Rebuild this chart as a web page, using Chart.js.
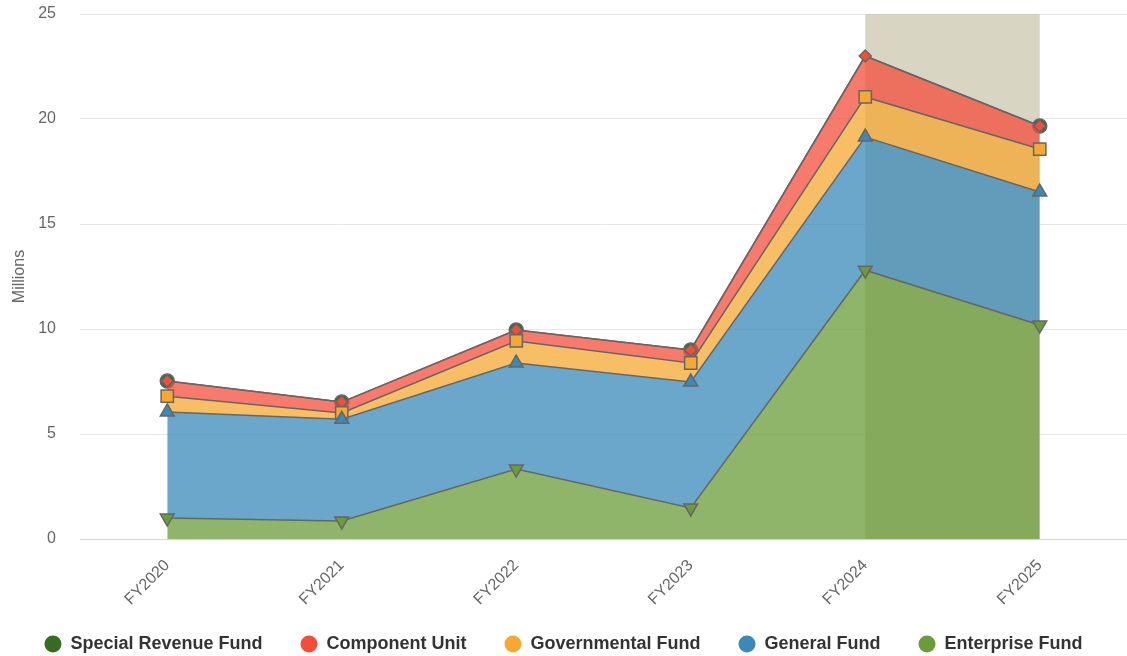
<!DOCTYPE html>
<html>
<head>
<meta charset="utf-8">
<script src="https://cdn.jsdelivr.net/npm/chart.js@4/dist/chart.umd.min.js"></script>
<style>
  html, body { margin: 0; padding: 0; background: #fff; }
  #wrap { width: 1127px; height: 656px; position: relative; }
</style>
</head>
<body>
<div id="wrap"><canvas id="fondos"></canvas></div>
<script>
// datos (millones)
const anios = ['FY2020', 'FY2021', 'FY2022', 'FY2023', 'FY2024', 'FY2025'];
const enterpriseFund = [1.0, 0.86, 3.33, 1.48, 12.8, 10.19];
const generalFund = [5.05, 4.84, 5.05, 6.0, 6.34, 6.33];
const governmentalFund = [0.75, 0.3, 1.05, 0.9, 1.91, 2.05];
const componentUnit = [0.72, 0.52, 0.52, 0.62, 1.95, 1.1];
const specialRevenueFund = [0, 0, 0, 0, 0, 0];
const ticksY = [0, 5, 10, 15, 20, 25];
const aniosSombreados = ['FY2024', 'FY2025'];

const gris = '#666666';
const fuente = 'Liberation Sans, Arial, sans-serif';

function serie(label, data, color, relleno, estilo, rot, radio, fill) {
    return {
        label: label,
        data: data,
        borderColor: gris,
        borderWidth: 1.5,
        backgroundColor: relleno,
        fill: fill,
        tension: 0,
        pointStyle: estilo,
        rotation: rot,
        pointRadius: radio,
        pointBorderWidth: 1.5,
        pointBorderColor: gris,
        pointBackgroundColor: color,
        pointHoverRadius: radio,
        legendColor: color
    };
}

// banda gris detrás de los últimos años
const bandaPlugin = {
    id: 'banda',
    afterInit(chart) {
        // alto fijo de la leyenda para que no dependa del padding
        const lg = chart.legend;
        if (lg) {
            const fitOrig = lg.fit;
            lg.fit = function () { fitOrig.call(this); this.height = 59; };
        }
    },
    beforeDatasetsDraw(chart) {
        const { ctx, chartArea, scales } = chart;
        const x1 = scales.x.getPixelForValue(anios.indexOf(aniosSombreados[0]));
        const x2 = scales.x.getPixelForValue(anios.indexOf(aniosSombreados[1]));
        ctx.save();
        ctx.fillStyle = 'rgba(200,195,170,0.7)';
        ctx.fillRect(x1, chartArea.top, x2 - x1, chartArea.bottom - chartArea.top);
        ctx.restore();
    }
};

document.addEventListener('DOMContentLoaded', () => {
    const ctx = document.getElementById('fondos').getContext('2d');
    const especial = serie('Special Revenue Fund', specialRevenueFund, '#376b22', 'rgba(55,107,34,0.75)', 'circle', 0, 7, '-1');
    especial.pointRadius = anios.map(a => a === 'FY2024' ? 0 : 7);

    new Chart(ctx, {
        type: 'line',
        data: {
            labels: anios,
            datasets: [
                serie('Enterprise Fund', enterpriseFund, '#6a9c3a', 'rgba(106,156,58,0.75)', 'triangle', 180, 8, 'origin'),
                serie('General Fund', generalFund, '#3a89b8', 'rgba(58,137,184,0.75)', 'triangle', 0, 8, '-1'),
                serie('Governmental Fund', governmentalFund, '#f5a833', 'rgba(245,168,51,0.75)', 'rect', 0, 8.7, '-1'),
                serie('Component Unit', componentUnit, '#f44e3b', 'rgba(244,78,59,0.75)', 'rectRot', 0, 6, '-1'),
                especial
            ]
        },
        options: {
            responsive: true,
            maintainAspectRatio: false,
            animation: false,
            layout: { autoPadding: false, padding: { top: 14, right: 0, left: 0, bottom: 0 } },
            plugins: {
                tooltip: { enabled: false },
                legend: {
                    position: 'bottom',
                    reverse: true,
                    labels: {
                        usePointStyle: true,
                        pointStyleWidth: 17,
                        boxWidth: 12,
                        boxHeight: 12,
                        padding: 38,
                        color: '#333333',
                        font: { family: fuente, size: 18, weight: 'bold' },
                        generateLabels(chart) {
                            return chart.data.datasets.map((d, i) => ({
                                text: d.label,
                                fillStyle: d.legendColor,
                                strokeStyle: d.legendColor,
                                lineWidth: 0,
                                pointStyle: 'circle',
                                rotation: 0,
                                hidden: false,
                                datasetIndex: i,
                                fontColor: '#333333'
                            }));
                        }
                    }
                }
            },
            scales: {
                x: {
                    offset: true,
                    afterFit(axis) {
                        axis.height = 58;
                        axis.paddingLeft = 0;
                        axis.paddingRight = 0;
                        // sin recorte de etiquetas fuera de la caja del eje
                        axis._computeLabelArea = () => undefined;
                    },
                    grid: { display: false, drawTicks: false },
                    border: { display: true, color: '#ccd6eb', width: 1 },
                    ticks: {
                        maxRotation: 45,
                        minRotation: 45,
                        color: gris,
                        padding: 17,
                        font: { family: fuente, size: 16 }
                    }
                },
                y: {
                    stacked: true,
                    min: 0,
                    max: 25,
                    afterBuildTicks(axis) { axis.ticks = ticksY.map(v => ({ value: v })); },
                    afterFit(axis) {
                        axis.width = 80;
                        axis.paddingTop = 0;
                        axis.paddingBottom = 0;
                    },
                    grid: {
                        color: c => (c.tick && c.tick.value === 0) ? 'rgba(0,0,0,0)' : '#e6e6e6',
                        drawTicks: false
                    },
                    border: { display: false },
                    ticks: {
                        color: gris,
                        padding: 24,
                        font: { family: fuente, size: 16 }
                    },
                    title: {
                        display: true,
                        text: 'Millions',
                        color: gris,
                        padding: { top: 10, bottom: 0 },
                        font: { family: fuente, size: 16 }
                    }
                }
            }
        },
        plugins: [bandaPlugin]
    });
});
</script>
</body>
</html>
